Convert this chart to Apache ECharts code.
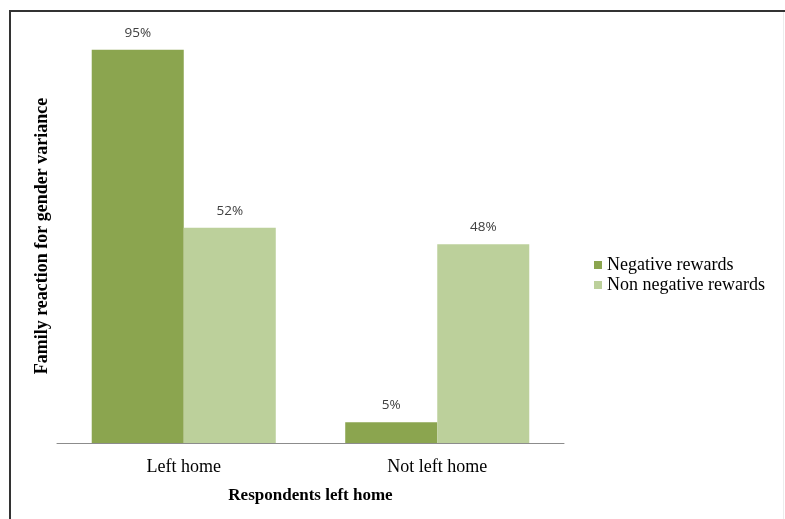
<!DOCTYPE html>
<html>
<head>
<meta charset="utf-8">
<script src="https://cdn.jsdelivr.net/npm/echarts@6/dist/echarts.min.js"></script>
<style>
  html, body { margin: 0; padding: 0; background: #fff; }
  #chart { width: 785px; height: 519px; }
</style>
</head>
<body>
<div id="chart"></div>
<script>
// Share of respondents by whether they left home, split by family reaction
const categories = ['Left home', 'Not left home'];
const negativeRewards = [95, 5];
const nonNegativeRewards = [52, 48];
const seriesNames = ['Negative rewards', 'Non negative rewards'];

const chart = echarts.init(document.getElementById('chart'));

const valueLabel = {
  show: true,
  position: 'top',
  distance: 10,
  formatter: p => p.value + '%',
  fontFamily: 'Open Sans, sans-serif',
  fontSize: 13.5,
  color: '#404040'
};

chart.setOption({
  animation: false,
  backgroundColor: '#ffffff',
  grid: { left: 57, right: 221, top: 29, bottom: 76 },
  legend: {
    orient: 'vertical',
    left: 589,
    top: 251,
    itemWidth: 8,
    itemHeight: 8,
    itemGap: 2,
    icon: 'rect',
    data: seriesNames,
    textStyle: { fontFamily: 'Liberation Serif, serif', fontSize: 18, color: '#000' }
  },
  xAxis: {
    type: 'category',
    data: categories,
    name: 'Respondents left home',
    nameLocation: 'middle',
    nameGap: 44,
    nameTextStyle: { fontFamily: 'Liberation Serif, serif', fontSize: 17, fontWeight: 'bold', color: '#000' },
    axisLine: { lineStyle: { color: '#8c8c8c', width: 1 } },
    axisTick: { show: false },
    axisLabel: { margin: 15, fontFamily: 'Liberation Serif, serif', fontSize: 18, color: '#000' }
  },
  yAxis: {
    type: 'value',
    min: 0,
    max: 100,
    name: 'Family reaction for gender variance',
    nameLocation: 'middle',
    nameGap: 6,
    nameRotate: 90,
    nameTextStyle: { fontFamily: 'Liberation Serif, serif', fontSize: 18, fontWeight: 'bold', color: '#000' },
    axisLine: { show: false },
    axisTick: { show: false },
    axisLabel: { show: false },
    splitLine: { show: false }
  },
  series: [
    {
      name: seriesNames[0],
      type: 'bar',
      data: negativeRewards,
      barGap: '0%',
      barCategoryGap: '27.4%',
      itemStyle: { color: '#8ba54f' },
      label: valueLabel
    },
    {
      name: seriesNames[1],
      type: 'bar',
      data: nonNegativeRewards,
      itemStyle: { color: '#bcd09b' },
      label: valueLabel
    }
  ],
  graphic: [
    { type: 'rect', shape: { x: 9, y: 10, width: 776, height: 2 }, style: { fill: '#333' }, silent: true },
    { type: 'rect', shape: { x: 9, y: 10, width: 2, height: 509 }, style: { fill: '#333' }, silent: true },
    { type: 'rect', shape: { x: 783, y: 12, width: 1, height: 507 }, style: { fill: '#ececec' }, silent: true }
  ]
});
</script>
</body>
</html>
